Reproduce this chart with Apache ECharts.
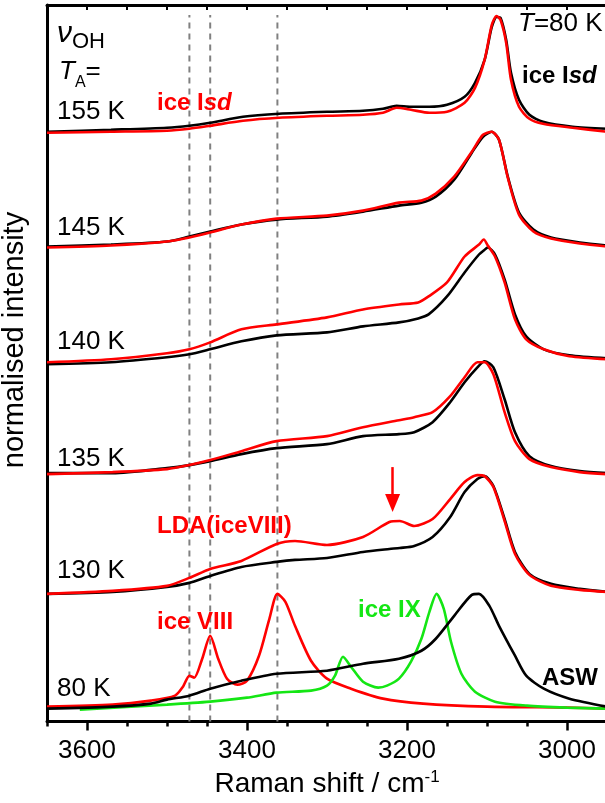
<!DOCTYPE html>
<html>
<head>
<meta charset="utf-8">
<script src="https://cdn.jsdelivr.net/npm/echarts@6/dist/echarts.min.js"></script>
<style>
  html, body { margin: 0; padding: 0; overflow: hidden; background: #fff; }
  #main { width: 612px; height: 803px; }
</style>
</head>
<body>
<div id="main"></div>
<script>
// Raman shift (cm-1) grids and intensities (arb. units, offset per anneal temperature)
const shift155 = [3650, 3570, 3500, 3472, 3446, 3405, 3360, 3300, 3255, 3230, 3213, 3195, 3172, 3150, 3128, 3115, 3103, 3094, 3088, 3083, 3076, 3070, 3060, 3047, 3030, 2993, 2950];
const black155 = [591, 593, 595, 597, 600, 606, 609, 611, 612, 614, 617, 616, 616, 618, 626, 640, 663, 696, 706, 705, 683, 650, 623, 608, 601, 596, 594];
const red155 = [590, 591, 592, 594, 597, 602, 605, 607, 608, 610, 615, 613, 610, 611, 620, 635, 663, 698, 707, 703, 680, 643, 616, 604, 599, 595, 591];

const shift145 = [3650, 3570, 3500, 3472, 3446, 3407, 3363, 3300, 3255, 3210, 3182, 3164, 3141, 3119, 3105, 3094, 3085, 3074, 3060, 3042, 3020, 2984, 2950];
const black145 = [476, 478, 481, 486, 491, 498, 503, 506, 511, 517, 520, 526, 543, 570, 586, 591, 583, 546, 510, 493, 485, 480, 477];
const red145 = [475, 477, 481, 485, 490, 498, 504, 507, 512, 520, 522, 529, 546, 571, 588, 591, 583, 545, 508, 491, 484, 479, 476];

const shift140 = [3650, 3570, 3500, 3472, 3446, 3407, 3363, 3300, 3255, 3210, 3186, 3173, 3150, 3128, 3110, 3104, 3099, 3090, 3078, 3065, 3051, 3029, 2997, 2950];
const black140 = [358, 360, 365, 368, 373, 381, 387, 390, 396, 400, 404, 408, 426, 450, 468, 472, 475, 468, 443, 408, 386, 373, 367, 364];
const red140 = [360, 363, 369, 373, 380, 393, 398, 405, 413, 418, 420, 426, 440, 466, 478, 483, 477, 466, 440, 403, 383, 373, 366, 363];

const shift135 = [3650, 3568, 3500, 3472, 3446, 3407, 3363, 3300, 3255, 3210, 3191, 3168, 3146, 3128, 3112, 3103, 3092, 3078, 3065, 3047, 3020, 2984, 2950];
const black135 = [249, 249, 254, 257, 261, 268, 274, 278, 286, 288, 290, 300, 320, 340, 355, 361, 355, 323, 290, 266, 256, 251, 249];
const red135 = [248, 250, 253, 257, 262, 271, 281, 286, 295, 302, 305, 310, 326, 345, 360, 360, 348, 310, 281, 263, 255, 250, 248];

const shift130 = [3650, 3568, 3500, 3472, 3446, 3407, 3363, 3340, 3300, 3255, 3222, 3209, 3191, 3168, 3146, 3128, 3112, 3103, 3092, 3078, 3065, 3047, 3020, 2984, 2950];
const black130 = [128, 130, 135, 139, 146, 155, 160, 162, 164, 170, 173, 174, 176, 185, 205, 230, 243, 246, 236, 203, 170, 148, 138, 133, 130];
const red130 = [128, 131, 136, 144, 153, 161, 178, 181, 177, 185, 200, 201, 196, 203, 223, 240, 247, 246, 235, 201, 168, 147, 136, 132, 130];

// 80 K references
const shiftAsw = [3650, 3568, 3520, 3500, 3472, 3446, 3407, 3363, 3300, 3255, 3210, 3182, 3164, 3141, 3119, 3110, 3097, 3085, 3065, 3051, 3029, 2997, 2950];
const asw = [13, 15, 18, 22, 26, 33, 41, 48, 51, 58, 63, 71, 83, 106, 127, 128, 116, 96, 66, 46, 33, 23, 15];

const shiftVIII = [3650, 3568, 3520, 3490, 3480, 3472, 3466, 3456, 3446, 3436, 3425, 3412, 3400, 3385, 3372, 3362, 3352, 3340, 3320, 3300, 3270, 3230, 3180, 3100, 3000, 2950];
const iceVIII = [15, 17, 21, 26, 35, 46, 44, 63, 86, 63, 43, 37, 41, 66, 103, 128, 120, 96, 61, 43, 33, 23, 18, 15, 14, 13];

const shiftIX = [3609, 3500, 3446, 3400, 3363, 3320, 3300, 3290, 3280, 3270, 3255, 3236, 3225, 3210, 3195, 3182, 3172, 3163, 3154, 3145, 3132, 3115, 3090, 3050, 3000, 2950];
const iceIX = [12, 17, 20, 24, 29, 31, 36, 46, 65, 55, 40, 34, 36, 43, 60, 83, 110, 128, 113, 80, 48, 30, 20, 16, 14, 13];

// ice VIII band positions (dashed guides)
const guideLines = [3472, 3446, 3362];
const majorTicks = [3000, 3200, 3400, 3600];

const RED = '#ff0000';
const GREEN = '#14e614';
const FONT = '"Liberation Sans", Arial, sans-serif';

function pairs(xs, ys) {
  return xs.map((x, i) => [x, ys[i]]);
}

function spectrum(xs, ys, color, extra) {
  return Object.assign({
    type: 'line',
    data: pairs(xs, ys),
    showSymbol: false,
    smooth: 0.25,
    lineStyle: { color: color, width: 2.6 },
    z: 3,
    animation: false
  }, extra || {});
}

const series = [];

guideLines.forEach(x => {
  series.push({
    type: 'line',
    data: [[x, 0], [x, 708]],
    showSymbol: false,
    lineStyle: { color: '#808080', width: 2, type: [6, 5] },
    z: 2,
    animation: false
  });
});

series.push(spectrum(shift155, black155, '#000'));
series.push(spectrum(shift155, red155, RED));
series.push(spectrum(shift145, black145, '#000'));
series.push(spectrum(shift145, red145, RED));
series.push(spectrum(shift140, black140, '#000'));
series.push(spectrum(shift140, red140, RED));
series.push(spectrum(shift135, black135, '#000'));
series.push(spectrum(shift135, red135, RED));
series.push(spectrum(shift130, black130, '#000'));
series.push(spectrum(shift130, red130, RED, {
  markLine: {
    silent: true,
    animation: false,
    symbol: ['none', 'triangle'],
    symbolSize: [15, 18],
    label: { show: false },
    lineStyle: { color: RED, width: 2.5, type: 'solid' },
    data: [[{ coord: [3218, 255] }, { coord: [3218, 219] }]]
  }
}));
series.push(spectrum(shiftVIII, iceVIII, RED));
series.push(spectrum(shiftIX, iceIX, GREEN));
series.push(spectrum(shiftAsw, asw, '#000'));

function label(text, x, y, opts) {
  return {
    type: 'text',
    x: x,
    y: y,
    z: 10,
    style: Object.assign({
      text: text,
      fontFamily: FONT,
      fontSize: 26,
      fill: '#000',
      verticalAlign: 'middle'
    }, opts || {})
  };
}

const chart = echarts.init(document.getElementById('main'));
chart.setOption({
  animation: false,
  grid: { left: 47, right: 5, top: 5, bottom: 80 },
  xAxis: [
    {
      type: 'value', min: 2950, max: 3650, inverse: true, position: 'bottom',
      axisLine: { lineStyle: { color: '#000', width: 3 } },
      axisTick: { customValues: majorTicks, length: 9, lineStyle: { width: 2.5, color: '#000' } },
      axisLabel: {
        customValues: majorTicks, margin: 16, fontSize: 26, color: '#000', fontFamily: FONT,
        formatter: v => String(v)
      },
      splitLine: { show: false },
      name: 'Raman shift / cm{sup|-1}',
      nameLocation: 'middle',
      nameGap: 42,
      nameTextStyle: {
        fontSize: 28, color: '#000', fontFamily: FONT,
        rich: { sup: { fontSize: 17, color: '#000', fontFamily: FONT, verticalAlign: 'top', padding: [0, 0, 14, 0] } }
      }
    },
    {
      type: 'value', min: 2950, max: 3650, interval: 50, inverse: true, position: 'bottom',
      axisLine: { show: false },
      axisTick: { length: 5, lineStyle: { width: 2.5, color: '#000' } },
      axisLabel: { show: false },
      splitLine: { show: false }
    },
    {
      type: 'value', min: 2950, max: 3650, interval: 50, inverse: true, position: 'top',
      axisLine: { lineStyle: { color: '#000', width: 3 } },
      axisTick: { inside: true, length: 5, lineStyle: { width: 2, color: '#000' } },
      axisLabel: { show: false },
      splitLine: { show: false }
    }
  ],
  yAxis: [
    {
      type: 'value', min: 0, max: 718, position: 'left',
      axisLine: { show: true, lineStyle: { color: '#000', width: 3 } },
      axisTick: { show: false },
      axisLabel: { show: false },
      splitLine: { show: false }
    },
    {
      type: 'value', min: 0, max: 718, position: 'right',
      axisLine: { show: true, lineStyle: { color: '#000', width: 3 } },
      axisTick: { show: false },
      axisLabel: { show: false },
      splitLine: { show: false }
    }
  ],
  graphic: [
    {
      type: 'text', x: 15, y: 340, rotation: Math.PI / 2, z: 10,
      style: {
        text: 'normalised intensity', fontFamily: FONT, fontSize: 29, fill: '#000',
        align: 'center', verticalAlign: 'middle'
      }
    },
    label('{i|ν}{sub|OH}', 57, 34, {
      rich: {
        i: { fontSize: 30, fontStyle: 'italic', fontFamily: FONT, fill: '#000' },
        sub: { fontSize: 22, fontFamily: FONT, fill: '#000', padding: [16, 0, 0, 0] }
      }
    }),
    label('{i|T}{sub|A}{n|=}', 59, 72, {
      rich: {
        i: { fontSize: 26, fontStyle: 'italic', fontFamily: FONT, fill: '#000' },
        sub: { fontSize: 16, fontFamily: FONT, fill: '#000', padding: [22, 0, 0, 0] },
        n: { fontSize: 26, fontFamily: FONT, fill: '#000' }
      }
    }),
    label('155 K', 57, 112),
    label('145 K', 57, 228),
    label('140 K', 57, 342),
    label('135 K', 57, 459),
    label('130 K', 57, 571),
    label('80 K', 57, 689),
    label('{i|T}=80 K', 518, 24, {
      rich: { i: { fontSize: 26, fontStyle: 'italic', fontFamily: FONT, fill: '#000' } }
    }),
    label('ice I{i|sd}', 522, 76, {
      fontSize: 24, fontWeight: 'bold',
      rich: { i: { fontSize: 24, fontWeight: 'bold', fontStyle: 'italic', fontFamily: FONT, fill: '#000' } }
    }),
    label('ice I{i|sd}', 157, 103, {
      fontSize: 24, fontWeight: 'bold', fill: RED,
      rich: { i: { fontSize: 24, fontWeight: 'bold', fontStyle: 'italic', fontFamily: FONT, fill: RED } }
    }),
    label('LDA(iceVIII)', 157, 526, { fontSize: 24, fontWeight: 'bold', fill: RED }),
    label('ice VIII', 157, 622, { fontSize: 24, fontWeight: 'bold', fill: RED }),
    label('ice IX', 358, 610, { fontSize: 24, fontWeight: 'bold', fill: GREEN }),
    label('ASW', 542, 678, { fontSize: 24, fontWeight: 'bold' })
  ],
  series: series
});
</script>
</body>
</html>
